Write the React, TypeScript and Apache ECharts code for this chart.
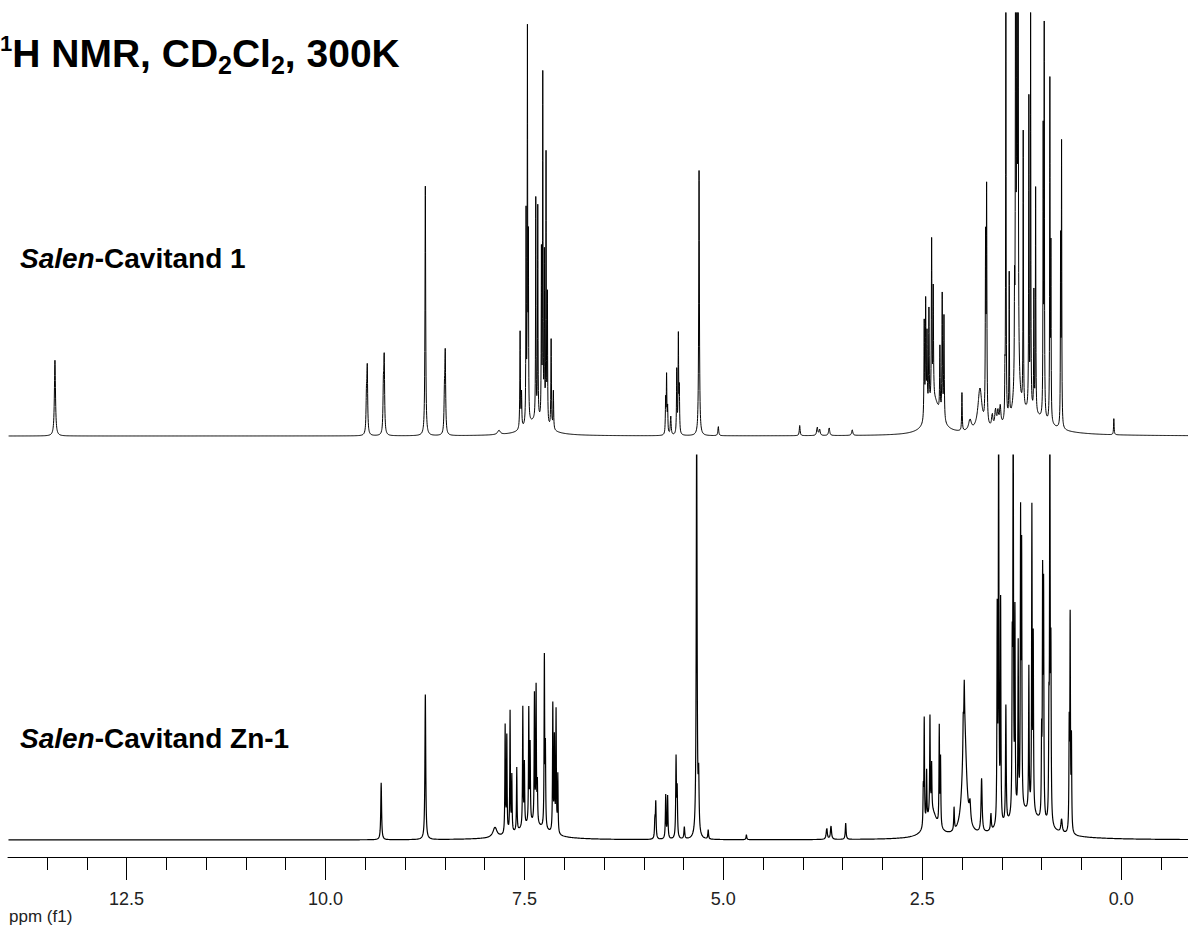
import React, { useEffect, useRef } from "react";
import * as echarts from "echarts";

// ---------- axis ----------
const PPM_LEFT = 13.99;
const PPM_RIGHT = -0.84;
const MAJOR_TICKS = [12.5, 10.0, 7.5, 5.0, 2.5, 0.0];
const MINOR_TICKS = [
  13.5, 13.0, 12.5, 12.0, 11.5, 11.0, 10.5, 10.0, 9.5, 9.0, 8.5, 8.0, 7.5, 7.0,
  6.5, 6.0, 5.5, 5.0, 4.5, 4.0, 3.5, 3.0, 2.5, 2.0, 1.5, 1.0, 0.5, 0.0, -0.5,
];
const AXIS_NAME = "ppm (f1)";

// ---------- text ----------
const TITLE_SUP = "1";
const TITLE_PARTS = ["H NMR, CD", "2", "Cl", "2", ", 300K"];
const LABEL_TOP = ["Salen", "-Cavitand 1"];
const LABEL_BOTTOM = ["Salen", "-Cavitand Zn-1"];

// ---------- peak lists: [ppm, intensity, half width (ppm)] ----------
const salenCavitand1Peaks: [number, number, number][] = [
  [13.4, 17.9, 0.008],
  [9.485, 8, 0.006],
  [9.475, 15, 0.006],
  [9.272, 10, 0.006],
  [9.262, 17, 0.006],
  [8.745, 59, 0.005],
  [8.505, 8, 0.006],
  [8.495, 18.5, 0.006],
  [7.82, 1, 0.02],
  [7.35, 3.5, 0.15],
  [7.554, 23, 0.004],
  [7.536, 8, 0.004],
  [7.479, 49, 0.003],
  [7.462, 91, 0.003],
  [7.45, 41, 0.003],
  [7.357, 52, 0.003],
  [7.332, 50, 0.003],
  [7.286, 39, 0.003],
  [7.269, 81, 0.003],
  [7.249, 38.5, 0.003],
  [7.228, 63, 0.003],
  [7.211, 30, 0.003],
  [7.164, 21, 0.004],
  [7.136, 9, 0.004],
  [5.725, 8, 0.004],
  [5.713, 13.5, 0.004],
  [5.7, 6, 0.004],
  [5.661, 4.5, 0.006],
  [5.585, 15, 0.004],
  [5.565, 23, 0.004],
  [5.553, 10, 0.004],
  [5.305, 62.7, 0.005],
  [5.063, 2.2, 0.006],
  [4.04, 2.4, 0.006],
  [3.82, 2.0, 0.008],
  [3.79, 1.5, 0.008],
  [3.67, 1.9, 0.008],
  [3.38, 1.4, 0.008],
  [2.35, 8, 0.09],
  [2.475, 23, 0.004],
  [2.457, 27, 0.004],
  [2.44, 18.5, 0.004],
  [2.416, 23.5, 0.004],
  [2.382, 38, 0.004],
  [2.362, 26, 0.004],
  [2.278, 15.5, 0.004],
  [2.249, 29, 0.004],
  [2.227, 24.5, 0.004],
  [2.001, 9, 0.004],
  [1.9, 2.6, 0.02],
  [1.775, 10, 0.03],
  [1.704, 42, 0.004],
  [1.691, 54, 0.004],
  [1.62, 3, 0.01],
  [1.58, 4, 0.01],
  [1.55, 3.5, 0.01],
  [1.52, 4.5, 0.01],
  [1.15, 5, 0.25],
  [1.461, 9, 0.003],
  [1.449, 115, 0.003],
  [1.407, 34, 0.003],
  [1.34, 20, 0.003],
  [1.327, 115, 0.003],
  [1.31, 120, 0.003],
  [1.295, 115, 0.003],
  [1.31, 30, 0.02],
  [1.231, 65, 0.003],
  [1.16, 73, 0.003],
  [1.138, 93, 0.003],
  [1.097, 28, 0.003],
  [1.075, 53, 0.003],
  [0.98, 66, 0.003],
  [0.967, 91, 0.003],
  [0.896, 80, 0.003],
  [0.883, 40, 0.003],
  [0.761, 43, 0.003],
  [0.749, 66, 0.003],
  [0.092, 3.8, 0.004],
];

const salenCavitandZn1Peaks: [number, number, number][] = [
  [9.3, 14.8, 0.006],
  [8.745, 37.7, 0.006],
  [7.87, 2.6, 0.03],
  [7.4, 4, 0.2],
  [7.742, 28, 0.004],
  [7.721, 25, 0.004],
  [7.68, 31.5, 0.004],
  [7.658, 14.5, 0.004],
  [7.596, 16.5, 0.004],
  [7.52, 31, 0.004],
  [7.5, 16, 0.004],
  [7.445, 29.5, 0.004],
  [7.428, 20, 0.004],
  [7.374, 33, 0.004],
  [7.353, 35, 0.004],
  [7.337, 10, 0.004],
  [7.249, 44, 0.004],
  [7.236, 20, 0.004],
  [7.143, 33, 0.004],
  [7.123, 24, 0.004],
  [7.102, 31.5, 0.004],
  [7.08, 15, 0.004],
  [5.86, 5, 0.005],
  [5.849, 9.3, 0.005],
  [5.724, 11.3, 0.005],
  [5.7, 11, 0.005],
  [5.594, 20.6, 0.005],
  [5.58, 12.2, 0.005],
  [5.49, 3.1, 0.006],
  [5.335, 110, 0.006],
  [5.31, 14, 0.006],
  [5.19, 2.4, 0.005],
  [4.71, 1.3, 0.005],
  [3.7, 3, 0.008],
  [3.647, 3.5, 0.008],
  [3.462, 4.2, 0.006],
  [2.38, 7, 0.08],
  [1.2, 7, 0.25],
  [2.487, 9.5, 0.004],
  [2.475, 27.5, 0.004],
  [2.445, 13, 0.004],
  [2.403, 25, 0.004],
  [2.382, 12, 0.004],
  [2.286, 25.5, 0.004],
  [2.27, 17.5, 0.004],
  [2.1, 6, 0.005],
  [1.97, 30, 0.03],
  [1.972, 10, 0.004],
  [1.985, 7, 0.004],
  [1.9, 5, 0.01],
  [1.754, 14, 0.008],
  [1.637, 4.5, 0.006],
  [1.558, 54, 0.004],
  [1.54, 115, 0.004],
  [1.515, 57, 0.004],
  [1.449, 30.5, 0.005],
  [1.369, 39, 0.004],
  [1.357, 115, 0.004],
  [1.335, 51, 0.004],
  [1.294, 43, 0.004],
  [1.264, 74, 0.004],
  [1.251, 65, 0.004],
  [1.16, 37, 0.004],
  [1.122, 78, 0.004],
  [1.105, 44, 0.004],
  [1.0, 20, 0.004],
  [0.987, 60.5, 0.004],
  [0.975, 58, 0.004],
  [0.908, 25, 0.004],
  [0.896, 115, 0.004],
  [0.883, 41.5, 0.004],
  [0.749, 3.5, 0.01],
  [0.653, 26, 0.004],
  [0.641, 54.5, 0.004],
  [0.625, 23.5, 0.004],
];

// Lorentzian line shapes from the peak list, sampled along the ppm axis
function buildSpectrum(peaks: [number, number, number][]): [number, number][] {
  const xs = new Set<number>();
  const step = 0.002;
  const n = Math.round((PPM_LEFT - PPM_RIGHT) / step);
  for (let i = 0; i <= n; i++) xs.add(+(PPM_RIGHT + i * step).toFixed(4));
  for (const [c, , w] of peaks) {
    xs.add(c);
    xs.add(+(c + w * 0.6).toFixed(5));
    xs.add(+(c - w * 0.6).toFixed(5));
  }
  const arr = Array.from(xs).sort((a, b) => a - b);
  return arr.map((x) => {
    let y = 0;
    for (const [c, h, w] of peaks) {
      const d = x - c;
      y += (h * w * w) / (d * d + w * w);
    }
    return [x, y];
  });
}

const FONT = '"Liberation Sans", Arial, Helvetica, sans-serif';

function measure(text: string, size: number, weight = "bold", style = "normal") {
  const c = document.createElement("canvas").getContext("2d");
  if (!c) return text.length * size * 0.55;
  c.font = `${style} ${weight} ${size}px ${FONT}`;
  return c.measureText(text).width;
}

export default function App() {
  const ref = useRef<HTMLDivElement>(null);

  useEffect(() => {
    if (!ref.current) return;
    const chart = echarts.init(ref.current, undefined, { renderer: "svg" });

    const topData = buildSpectrum(salenCavitand1Peaks);
    const botData = buildSpectrum(salenCavitandZn1Peaks);

    // title pieces
    const mainSize = 39;
    const subSize = 25;
    const supSize = 22;
    const titleBase = 67;
    const mid = (baseline: number, size: number) => baseline - 0.3465 * size;
    const titleChildren: any[] = [];
    titleChildren.push({
      type: "text",
      x: 0,
      y: mid(51, supSize),
      style: {
        text: TITLE_SUP,
        font: `bold ${supSize}px ${FONT}`,
        fill: "#000",
        align: "left",
        verticalAlign: "middle",
      },
    });
    let cx = measure(TITLE_SUP, supSize);
    TITLE_PARTS.forEach((t, i) => {
      const isSub = i % 2 === 1;
      const size = isSub ? subSize : mainSize;
      const base = isSub ? titleBase + 7 : titleBase;
      titleChildren.push({
        type: "text",
        x: cx,
        y: mid(base, size),
        style: {
          text: t,
          font: `bold ${size}px ${FONT}`,
          fill: "#000",
          align: "left",
          verticalAlign: "middle",
        },
      });
      cx += measure(t, size);
    });

    const labelSize = 28;
    const richStyles = {
      i: { fontStyle: "italic", fontWeight: "bold", fontSize: labelSize, fontFamily: FONT, fill: "#000", color: "#000" },
      b: { fontWeight: "bold", fontSize: labelSize, fontFamily: FONT, fill: "#000", color: "#000" },
    };
    const makeLabel = (parts: string[], x: number, baseline: number) => ({
      type: "text",
      x,
      y: mid(baseline, labelSize),
      style: {
        text: `{i|${parts[0]}}{b|${parts[1]}}`,
        rich: richStyles,
        fill: "#000",
        align: "left",
        verticalAlign: "middle",
      },
    });

    const axisCommon = {
      type: "value" as const,
      min: PPM_RIGHT,
      max: PPM_LEFT,
      inverse: true,
      splitLine: { show: false },
    };

    chart.setOption({
      animation: false,
      backgroundColor: "#fff",
      grid: [
        { left: 8, right: 0, top: 13, height: 427.24 },
        { left: 8, right: 0, top: 455, bottom: 70 },
      ],
      xAxis: [
        { ...axisCommon, gridIndex: 0, show: false },
        {
          ...axisCommon,
          gridIndex: 1,
          position: "bottom",
          axisLine: { show: true, onZero: false, lineStyle: { color: "#000", width: 1 } },
          axisTick: {
            show: true,
            customValues: MAJOR_TICKS,
            length: 23,
            lineStyle: { color: "#000", width: 1 },
          },
          axisLabel: {
            show: true,
            customValues: MAJOR_TICKS,
            formatter: (v: number) => v.toFixed(1),
            margin: 33,
            fontSize: 18,
            fontFamily: FONT,
            color: "#222",
          },
        },
        {
          ...axisCommon,
          gridIndex: 1,
          position: "bottom",
          axisLine: { show: false, onZero: false },
          axisTick: {
            show: true,
            customValues: MINOR_TICKS,
            length: 13,
            lineStyle: { color: "#000", width: 1 },
          },
          axisLabel: { show: false },
        },
      ],
      yAxis: [
        { type: "value", gridIndex: 0, min: -1, max: 100, show: false },
        { type: "value", gridIndex: 1, min: -4.42, max: 100, show: false },
      ],
      series: [
        {
          type: "line",
          name: "Salen-Cavitand 1",
          xAxisIndex: 0,
          yAxisIndex: 0,
          data: topData,
          showSymbol: false,
          symbol: "none",
          silent: true,
          clip: true,
          lineStyle: { color: "#000", width: 1 },
        },
        {
          type: "line",
          name: "Salen-Cavitand Zn-1",
          xAxisIndex: 1,
          yAxisIndex: 1,
          data: botData,
          showSymbol: false,
          symbol: "none",
          silent: true,
          clip: true,
          lineStyle: { color: "#000", width: 1.2 },
        },
      ],
      graphic: [
        { type: "group", x: 0, y: 0, children: titleChildren },
        makeLabel(LABEL_TOP, 20, 268.5),
        makeLabel(LABEL_BOTTOM, 20, 748),
        {
          type: "text",
          x: 9,
          y: mid(922, 17),
          style: {
            text: AXIS_NAME,
            font: `17px ${FONT}`,
            fill: "#222",
            align: "left",
            verticalAlign: "middle",
          },
        },
      ],
    });

    return () => chart.dispose();
  }, []);

  return (
    <div
      ref={ref}
      style={{ position: "absolute", left: 0, top: 0, width: 1188, height: 927 }}
    />
  );
}
